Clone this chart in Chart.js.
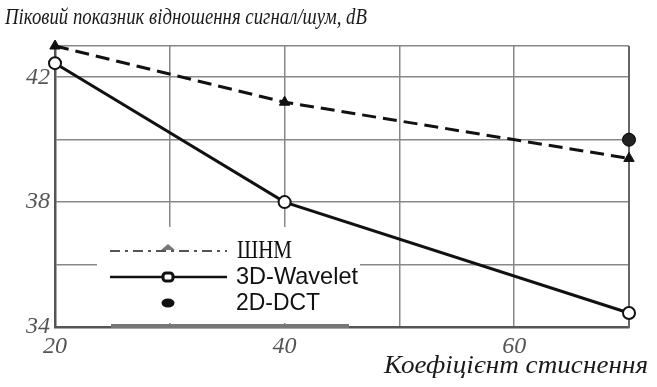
<!DOCTYPE html>
<html><head><meta charset="utf-8">
<script src="https://cdn.jsdelivr.net/npm/chart.js@4/dist/chart.umd.min.js"></script>
<style>html,body{margin:0;padding:0;background:#fff}#wrap{width:657px;height:387px}</style>
</head><body><div id="wrap"><canvas id="c" width="657" height="387"></canvas></div>
<script>
const titleText = 'Піковий показник відношення сигнал/шум, dB';
const xAxisTitle = 'Коефіцієнт стиснення';
const seriesNames = ['ШНМ', '3D-Wavelet', '2D-DCT'];
const xValues = [20, 40, 70];
const shnmValues = [43.0, 41.2, 39.4];
const waveletValues = [42.45, 38.0, 34.45];
const dctX = [70];
const dctValues = [40.0];
const xTicks = [20, 30, 40, 50, 60, 70];
const xLabels = [20, 40, 60];
const yTicks = [34, 36, 38, 40, 42, 43];
const yLabels = [34, 38, 42];

const pts = (xs, ys) => xs.map((x, i) => ({x: x, y: ys[i]}));
const serif = '"Liberation Serif", "DejaVu Serif", serif';
const sans = '"Liberation Sans", Arial, sans-serif';

function fitText(c, text, x, y, w, align) {
  const m = c.measureText(text).width;
  const k = w / m;
  c.save();
  const left = align === 'right' ? x - w : x;
  c.translate(left, y);
  c.scale(k, 1);
  c.textAlign = 'left';
  c.fillText(text, 0, 0);
  c.restore();
}

const overlay = {
  id: 'overlay',
  beforeDraw(chart) {
    const c = chart.ctx;
    c.save();
    c.fillStyle = '#fff';
    c.fillRect(0, 0, chart.width, chart.height);
    c.restore();
  },
  beforeDatasetsDraw(chart) {
    const c = chart.ctx, a = chart.chartArea;
    c.save();
    c.strokeStyle = '#666'; c.lineWidth = 2;
    c.beginPath(); c.moveTo(a.right, a.top); c.lineTo(a.right, a.bottom + 1); c.stroke();
    c.fillStyle = '#fff';
    c.fillRect(97, 227, 263, 96);
    c.strokeStyle = '#777'; c.lineWidth = 4;
    c.beginPath(); c.moveTo(111, 326); c.lineTo(349, 326); c.stroke();
    c.strokeStyle = '#555'; c.lineWidth = 2; c.setLineDash([10, 5, 3, 5]);
    c.beginPath(); c.moveTo(110, 251); c.lineTo(227, 251); c.stroke();
    c.setLineDash([]);
    c.fillStyle = '#777';
    c.beginPath(); c.moveTo(168, 244); c.lineTo(175, 250); c.lineTo(161, 250); c.closePath(); c.fill();
    c.strokeStyle = '#111'; c.lineWidth = 2.5;
    c.beginPath(); c.moveTo(110, 277); c.lineTo(227, 277); c.stroke();
    c.fillStyle = '#fff'; c.lineWidth = 3;
    c.beginPath(); c.roundRect(163, 273, 10, 8, 3); c.fill(); c.stroke();
    c.fillStyle = '#111';
    c.beginPath(); c.ellipse(168, 303, 6.5, 4.5, 0, 0, Math.PI * 2); c.fill();
    c.fillStyle = '#111'; c.textBaseline = 'middle'; c.textAlign = 'left';
    c.font = '25px ' + serif;
    fitText(c, seriesNames[0], 237, 251, 55, 'left');
    c.font = '24px ' + sans;
    fitText(c, seriesNames[1], 236, 277, 122, 'left');
    fitText(c, seriesNames[2], 236, 303, 84, 'left');
    c.restore();
  },
  afterDraw(chart) {
    const c = chart.ctx;
    c.save();
    c.fillStyle = '#1a1a1a';
    c.textBaseline = 'alphabetic';
    c.font = 'italic 23px ' + serif;
    fitText(c, titleText, 5, 24, 362, 'left');
    c.font = 'italic 25px ' + serif;
    fitText(c, xAxisTitle, 648, 373, 264, 'right');
    c.restore();
  }
};

new Chart(document.getElementById('c'), {
  type: 'scatter',
  data: {
    datasets: [
      {
        label: seriesNames[0], data: pts(xValues, shnmValues), showLine: true,
        borderColor: '#111', borderWidth: 3, borderDash: [14, 7],
        pointStyle: 'triangle', pointRadius: 6, pointBackgroundColor: '#111', pointBorderColor: '#111',
        pointBorderWidth: 1, clip: false
      },
      {
        label: seriesNames[1], data: pts(xValues, waveletValues), showLine: true,
        borderColor: '#111', borderWidth: 3,
        pointStyle: 'circle', pointRadius: 6, pointBackgroundColor: '#fff', pointBorderColor: '#111',
        pointBorderWidth: 2, clip: false
      },
      {
        label: seriesNames[2], data: pts(dctX, dctValues), showLine: false,
        pointStyle: 'circle', pointRadius: 6.5, pointBackgroundColor: '#222', pointBorderColor: '#000',
        pointBorderWidth: 1, clip: false
      }
    ]
  },
  options: {
    responsive: false, animation: false, devicePixelRatio: 1,
    layout: {padding: {top: 46, right: 28, left: 0, bottom: 0}},
    plugins: {legend: {display: false}, title: {display: false}, tooltip: {enabled: false}},
    scales: {
      x: {
        type: 'linear', min: 20, max: 70,
        afterBuildTicks: s => { s.ticks = xTicks.map(v => ({value: v})); },
        afterFit: s => { s.height = 60; },
        grid: {color: '#888', lineWidth: 1.5, drawTicks: false},
        border: {color: '#555', width: 2.5},
        ticks: {
          padding: 5, color: '#555', font: {family: serif, style: 'italic', size: 24},
          maxRotation: 0, autoSkip: false,
          callback: v => xLabels.includes(v) ? String(v) : ''
        }
      },
      y: {
        type: 'linear', min: 34, max: 43,
        afterBuildTicks: s => { s.ticks = yTicks.map(v => ({value: v})); },
        afterFit: s => { s.width = 55; },
        grid: {color: '#888', lineWidth: 1.5, drawTicks: false},
        border: {color: '#555', width: 2.5},
        ticks: {
          padding: 5, color: '#555', font: {family: serif, style: 'italic', size: 24},
          autoSkip: false,
          callback: v => yLabels.includes(v) ? String(v) : ''
        }
      }
    }
  },
  plugins: [overlay]
});
</script>
</body></html>
